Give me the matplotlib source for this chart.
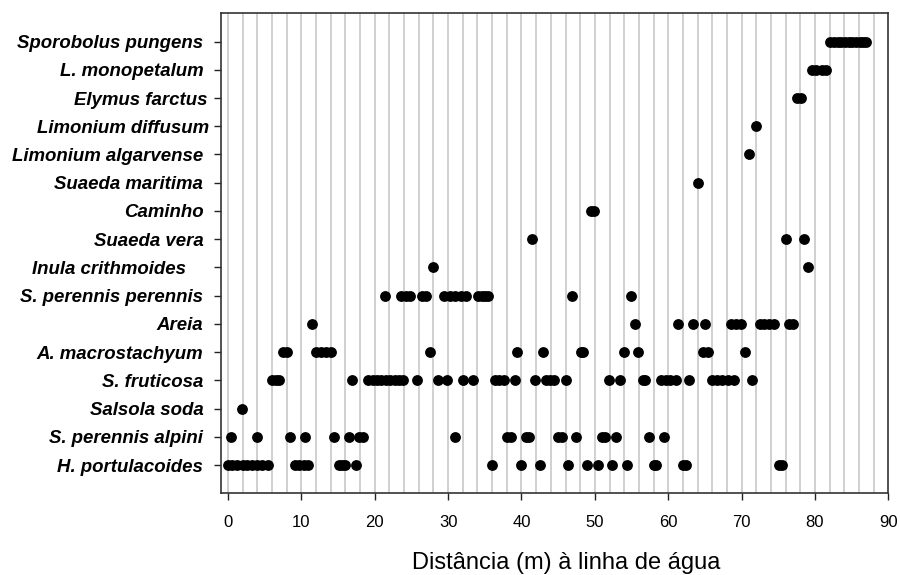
import matplotlib
matplotlib.use("Agg")
import matplotlib.pyplot as plt
from matplotlib.transforms import ScaledTranslation

plt.rcParams['font.family'] = ['Liberation Sans', 'DejaVu Sans']

# Species / site categories, bottom row first
species = [
    "H. portulacoides",
    "S. perennis alpini",
    "Salsola soda",
    "S. fruticosa",
    "A. macrostachyum",
    "Areia",
    "S. perennis perennis",
    "Inula crithmoides",
    "Suaeda vera",
    "Caminho",
    "Suaeda maritima",
    "Limonium algarvense",
    "Limonium diffusum",
    "Elymus farctus",
    "L. monopetalum",
    "Sporobolus pungens",
]

# Distances (m) from the water line where each category was recorded
h_portulacoides = [0, 0.5, 1.2, 2.0, 2.6, 3.3, 4.0, 4.6, 5.4, 9.1, 9.7, 10.3, 10.95,
                   15.1, 15.6, 16.0, 17.5, 36.0, 40.0, 42.5, 46.4, 48.9, 50.4, 52.4,
                   54.4, 58.05, 58.4, 61.95, 62.4, 75.05, 75.55]
s_perennis_alpini = [0.45, 3.95, 8.4, 10.45, 14.45, 16.45, 17.8, 18.4, 31.0, 38.05,
                     38.55, 40.55, 41.05, 45.0, 45.5, 47.4, 51.0, 51.4, 52.95, 57.4, 59.45]
salsola_soda = [1.95]
s_fruticosa = [6.0, 6.5, 7.0, 16.95, 19.1, 19.7, 20.3, 20.9, 21.5, 22.1, 22.7, 23.3,
               23.9, 25.7, 28.6, 29.9, 32.0, 33.4, 36.4, 37.0, 37.6, 39.1, 41.9, 43.3,
               43.9, 44.5, 46.0, 51.9, 53.45, 56.5, 56.9, 59.0, 59.7, 60.3, 61.0, 62.9,
               66.0, 66.7, 67.4, 68.2, 69.0, 71.4]
a_macrostachyum = [7.5, 8.0, 12.0, 12.7, 13.3, 14.0, 27.5, 39.45, 42.95, 48.1, 48.45,
                   53.95, 55.9, 64.7, 65.4, 70.5]
areia = [11.45, 55.45, 61.4, 63.4, 64.95, 68.6, 69.3, 69.95, 72.5, 73.1, 73.8, 74.4,
         76.5, 77.0]
s_perennis_perennis = [21.45, 23.6, 24.2, 24.8, 26.5, 26.95, 29.5, 30.2, 30.9, 31.7,
                       32.4, 34.1, 34.55, 35.0, 35.45, 46.9, 54.95]
inula_crithmoides = [27.9, 79.0]
suaeda_vera = [41.4, 76.0, 78.5]
caminho = [49.5, 49.95]
suaeda_maritima = [64.0]
limonium_algarvense = [71.0]
limonium_diffusum = [72.0]
elymus_farctus = [77.55, 78.05]
l_monopetalum = [79.6, 80.2, 80.9, 81.5]
sporobolus_pungens = [82.1, 82.6, 83.1, 83.6, 84.1, 84.6, 85.1, 85.6, 86.1, 86.5, 87.0]

distances = [h_portulacoides, s_perennis_alpini, salsola_soda, s_fruticosa,
             a_macrostachyum, areia, s_perennis_perennis, inula_crithmoides,
             suaeda_vera, caminho, suaeda_maritima, limonium_algarvense,
             limonium_diffusum, elymus_farctus, l_monopetalum, sporobolus_pungens]

x_ticks = [0, 10, 20, 30, 40, 50, 60, 70, 80, 90]
x_label = "Distância (m) à linha de água"

fig = plt.figure(figsize=(9, 5.75), dpi=100)
ax = fig.add_axes([0.24522, 0.14209, 0.74178, 0.83478])

# light vertical guide lines every 2 m
for gx in range(0, 90, 2):
    ax.axvline(gx, color='#c8c8c8', lw=1.2, zorder=0)

for row, xs in enumerate(distances, start=1):
    ax.plot(xs, [row] * len(xs), linestyle='none', marker='o', markersize=7.8,
            color='black', markeredgewidth=0, zorder=3)

ax.set_xlim(-1, 90)
ax.set_ylim(0, 17)
ax.set_xticks(x_ticks)
ax.set_xticklabels([str(t) for t in x_ticks])
ax.set_yticks(range(1, len(species) + 1))
ax.set_yticklabels(species)

ax.tick_params(axis='x', direction='out', length=5, width=1, pad=10.5, labelsize=12,
               color='#222222')
ax.tick_params(axis='y', direction='out', length=5.3, width=1, pad=7.2, labelsize=13.4,
               color='#222222')
for lab in ax.get_yticklabels():
    lab.set_fontweight('bold')
    lab.set_fontstyle('italic')

# nudge a few labels horizontally
shifts = {"Elymus farctus": 4.4, "Limonium diffusum": 5.7, "Inula crithmoides": -17.6}
for lab in ax.get_yticklabels():
    dx = shifts.get(lab.get_text(), 0)
    if dx:
        lab.set_transform(lab.get_transform() + ScaledTranslation(dx / 100, 0, fig.dpi_scale_trans))

for sp in ax.spines.values():
    sp.set_color('#333333')
    sp.set_linewidth(1.2)

ax.set_xlabel(x_label, fontsize=17)
ax.xaxis.label.set_va('baseline')
ax.xaxis.set_label_coords(0.517, -0.1567)

fig.savefig("out.png", dpi=100)
